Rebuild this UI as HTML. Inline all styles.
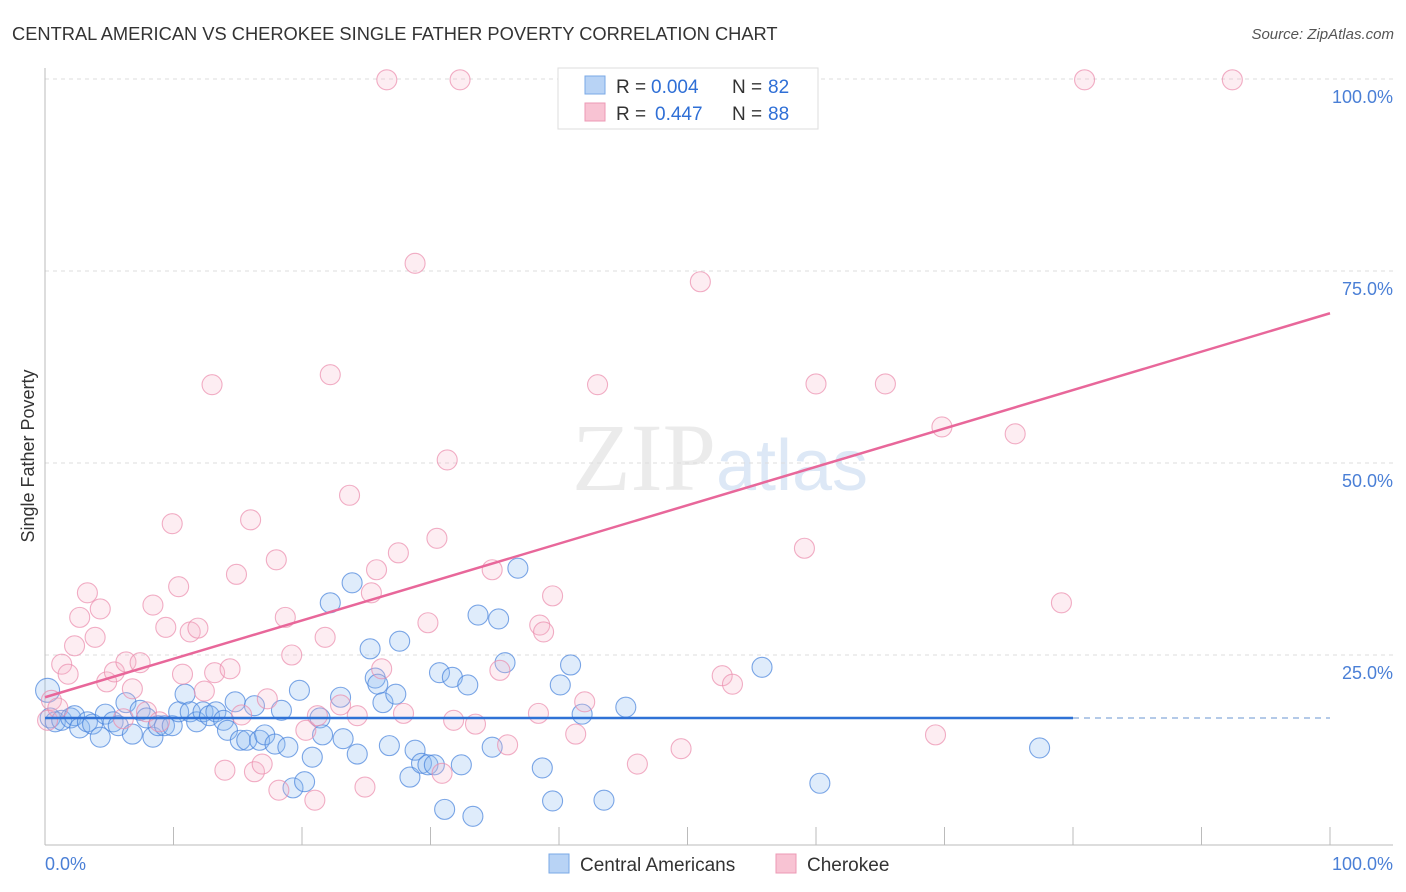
<!DOCTYPE html>
<html><head><meta charset="utf-8"><style>
body{margin:0;background:#fff;font-family:"Liberation Sans",sans-serif}
svg{display:block}
</style></head><body>
<svg width="1406" height="892" viewBox="0 0 1406 892">
<text x="12" y="40" font-size="18.3" fill="#333">CENTRAL AMERICAN VS CHEROKEE SINGLE FATHER POVERTY CORRELATION CHART</text>
<text x="1394" y="39" font-size="15" fill="#555" font-style="italic" text-anchor="end">Source: ZipAtlas.com</text>
<text x="720" y="490" font-size="96" fill="#ebebeb" text-anchor="middle" font-family="Liberation Serif">ZIP<tspan fill="#dde8f6" font-family="Liberation Sans" font-size="72">atlas</tspan></text>
<g id="grid"></g>
<g id="axes"></g>
<g id="pts"></g>
<g id="lines"></g>
<text transform="translate(34,456) rotate(-90)" font-size="18" fill="#333" text-anchor="middle">Single Father Poverty</text>
<text x="45" y="870" font-size="18" fill="#4a7fd6">0.0%</text>
<text x="1393" y="870" font-size="18" fill="#4a7fd6" text-anchor="end">100.0%</text>
<g>
<rect x="558" y="68" width="260" height="61" fill="#fff" stroke="#ddd"/>
<rect x="585" y="76" width="20" height="18" fill="#b8d3f5" stroke="#7aa8e6"/>
<rect x="585" y="103" width="20" height="18" fill="#f8c3d3" stroke="#ec9ab4"/>
<text y="93" font-size="19" fill="#333"><tspan x="616">R =</tspan><tspan x="651" fill="#2f6fd6">0.004</tspan><tspan x="732">N =</tspan><tspan x="768" fill="#2f6fd6">82</tspan></text>
<text y="120" font-size="19" fill="#333"><tspan x="616">R =</tspan><tspan x="655" fill="#2f6fd6">0.447</tspan><tspan x="732">N =</tspan><tspan x="768" fill="#2f6fd6">88</tspan></text>
</g>
<g>
<rect x="549" y="854" width="20" height="19" fill="#b8d3f5" stroke="#7aa8e6"/>
<text x="580" y="871" font-size="19" fill="#333">Central Americans</text>
<rect x="776" y="854" width="20" height="19" fill="#f8c3d3" stroke="#ec9ab4"/>
<text x="807" y="871" font-size="19" fill="#333">Cherokee</text>
</g>
</svg>
<script>
const blueX=[0.2,0.4,0.8,1.3,2.0,2.3,2.7,3.3,3.7,4.3,4.7,5.3,5.7,6.3,6.8,7.4,7.9,8.4,8.8,9.3,9.9,10.4,10.9,11.3,11.8,12.3,12.8,13.3,13.9,14.2,14.8,15.2,15.7,16.3,16.7,17.1,17.9,18.4,18.9,19.3,19.8,20.2,20.8,21.4,21.6,22.2,23.0,23.2,23.9,24.3,25.3,25.7,25.9,26.3,26.8,27.3,27.6,28.4,28.8,29.3,29.8,30.3,30.7,31.1,31.7,32.4,32.9,33.3,33.7,34.8,35.3,35.8,36.8,38.7,39.5,40.1,40.9,41.8,43.5,45.2,55.8,60.3,77.4];
const blueY=[20.4,16.8,16.3,16.5,16.8,17.1,15.5,16.3,16.0,14.3,17.3,16.3,15.8,18.8,14.7,17.8,16.8,14.3,15.8,15.8,15.8,17.6,19.9,17.6,16.3,17.6,17.1,17.6,16.5,15.2,18.9,13.9,13.9,18.4,13.9,14.6,13.4,17.8,13.0,7.7,20.4,8.5,11.7,16.8,14.6,31.8,19.5,14.1,34.4,12.1,25.8,22.0,21.2,18.8,13.2,19.9,26.8,9.1,12.6,10.9,10.7,10.7,22.7,4.9,22.1,10.7,21.1,4.0,30.2,13.0,29.7,24.0,36.3,10.3,6.0,21.1,23.7,17.3,6.1,18.2,23.4,8.3,12.9];
const pinkX=[0.2,0.5,1.0,1.3,1.8,2.3,2.7,3.3,3.9,4.3,4.8,5.4,6.1,6.3,6.8,7.4,7.9,8.4,8.9,9.4,9.9,10.4,10.7,11.3,11.9,12.4,13.0,13.2,14.0,14.4,14.9,15.3,16.0,16.3,16.9,17.3,18.0,18.2,18.7,19.2,20.3,21.0,21.2,21.8,22.2,23.0,23.7,24.3,24.9,25.4,25.8,26.2,26.6,27.5,27.9,28.8,29.8,30.5,30.9,31.3,31.8,32.3,33.5,34.8,35.4,36.0,38.4,38.5,38.8,39.5,41.3,42.0,43.0,46.1,49.5,51.0,51.9,52.7,53.5,59.1,60.0,65.4,69.8,69.3,75.5,79.1,80.9,92.4];
const pinkY=[16.5,19.1,18.1,23.8,22.5,26.2,29.9,33.1,27.3,31.0,21.5,22.8,16.7,24.1,20.6,24.0,17.6,31.5,16.3,28.6,42.1,33.9,22.5,28.0,28.5,20.3,60.2,22.7,10.0,23.2,35.5,17.2,42.6,9.8,10.8,19.3,37.4,7.4,29.9,25.0,15.2,6.1,17.1,27.3,61.5,18.5,45.8,17.1,7.8,33.1,36.1,23.2,99.9,38.3,17.4,76.0,29.2,40.2,9.6,50.4,16.5,99.9,16.0,36.1,23.0,13.3,17.4,28.9,28.0,32.7,14.7,18.9,60.2,10.8,12.8,73.6,99.9,22.3,21.2,38.9,60.3,60.3,54.7,14.6,53.8,31.8,99.9,99.9];
const yTicks=[25,50,75,100];
const yTickLabels=["25.0%","50.0%","75.0%","100.0%"];
const xTicks=[10,20,30,40,50,60,70,80,90,100];
const blueTrend=[16.8,16.8]; const blueSolidEnd=80;
const pinkTrend=[19.5,69.5];
const NS="http://www.w3.org/2000/svg";
const sx=v=>45+v*12.85, sy=v=>847-v*7.68;
function mk(tag,attrs,parent){const e=document.createElementNS(NS,tag);for(const k in attrs)e.setAttribute(k,attrs[k]);document.getElementById(parent).appendChild(e);return e;}
yTicks.forEach((t,i)=>{
 const g=mk('line',{x1:45,x2:1393,y1:sy(t),y2:sy(t),stroke:'#ddd','stroke-dasharray':'4,4'},'grid');
 
 
 const tx=mk('text',{x:1393,y:sy(t)+24,'font-size':18,fill:'#4a7fd6','text-anchor':'end'},'grid');
 tx.textContent=yTickLabels[i];
 
 
});
const ax=mk('line',{x1:45,x2:45,y1:68,y2:845,stroke:'#bbb'},'axes');


const bx=mk('line',{x1:45,x2:1393,y1:845,y2:845,stroke:'#bbb'},'axes');


xTicks.forEach(t=>{const l=mk('line',{x1:sx(t),x2:sx(t),y1:827,y2:845,stroke:'#bbb'},'axes');
 
 });
blueX.forEach((x,i)=>{const c=mk('circle',{cx:sx(x),cy:sy(blueY[i]),r:i===0?12:10,fill:'rgba(140,185,240,0.28)',stroke:'rgba(70,130,220,0.7)','stroke-width':1.1},'pts');
 
 });
pinkX.forEach((x,i)=>{const c=mk('circle',{cx:sx(x),cy:sy(pinkY[i]),r:10,fill:'rgba(248,185,205,0.25)',stroke:'rgba(235,140,172,0.7)','stroke-width':1.1},'pts');
 
 });
const b1=mk('line',{x1:sx(0),y1:sy(blueTrend[0]),x2:sx(blueSolidEnd),y2:sy(blueTrend[0]+(blueTrend[1]-blueTrend[0])*blueSolidEnd/100),stroke:'#2f72d6','stroke-width':2.5},'lines');


const b2=mk('line',{x1:sx(blueSolidEnd),y1:sy(blueTrend[0]+(blueTrend[1]-blueTrend[0])*blueSolidEnd/100),x2:sx(100),y2:sy(blueTrend[1]),stroke:'#9bb8e0','stroke-width':1.5,'stroke-dasharray':'6,5'},'lines');


const p1=mk('line',{x1:sx(0),y1:sy(pinkTrend[0]),x2:sx(100),y2:sy(pinkTrend[1]),stroke:'#e8679a','stroke-width':2.5},'lines');


</script>
</body></html>
